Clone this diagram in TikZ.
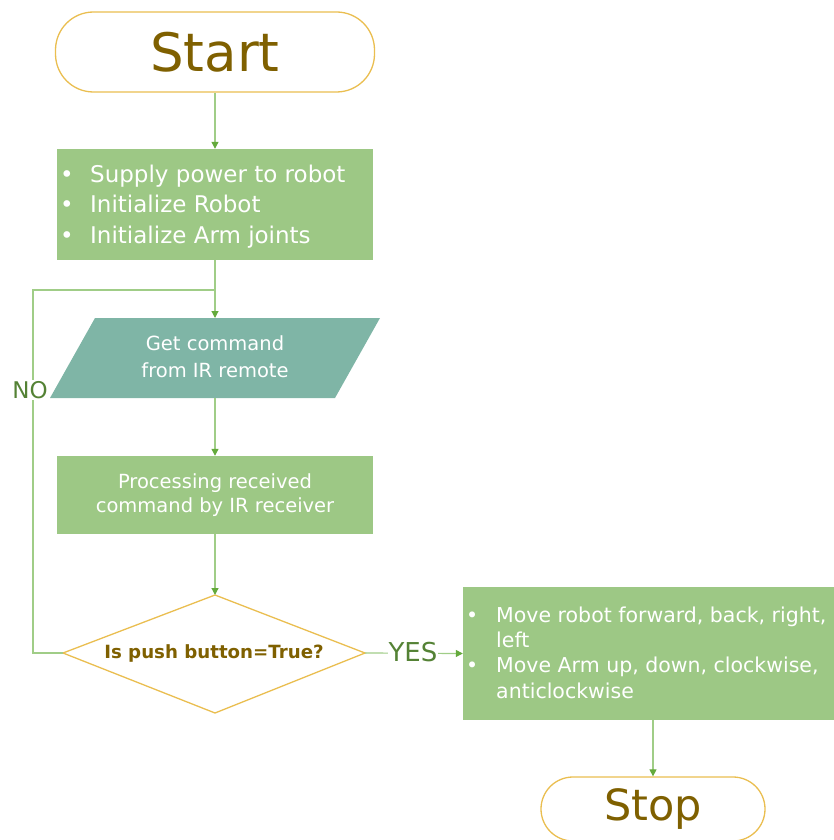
\documentclass[tikz,border=0pt]{standalone}
\usepackage{fontspec}
\setmainfont{DejaVu Sans}
\usetikzlibrary{arrows.meta,shapes.geometric}
\definecolor{boxgreen}{RGB}{157,200,133}
\definecolor{ioteal}{RGB}{127,181,166}
\definecolor{gold}{RGB}{234,190,80}
\definecolor{brown}{RGB}{127,96,0}
\definecolor{linegreen}{RGB}{160,205,135}
\definecolor{tipgreen}{RGB}{100,170,60}
\definecolor{labgreen}{RGB}{84,130,53}
\tikzset{
  term/.style={draw=gold, line width=1.3pt, fill=white, rounded corners=38pt, text=brown, inner sep=0pt},
  procbox/.style={fill=boxgreen, draw=none, text=white, inner sep=0pt},
  flow/.style={draw=linegreen, line width=1.2pt, -{Triangle[length=7pt,width=7pt,color=tipgreen]}},
  plain/.style={draw=linegreen, line width=1.2pt},
  lab/.style={text=labgreen, fill=white, inner sep=1pt}
}
\newcommand{\bl}{\makebox[30pt][l]{\textbullet}}
\begin{document}
\begin{tikzpicture}[x=1pt,y=-1pt]
\useasboundingbox (0,0) rectangle (833,840);
% Start
\node[term, minimum width=319pt, minimum height=80pt, font=\fontsize{53}{55}\selectfont] (start) at (215,52) {Start};
% Box 1
\node[procbox, minimum width=316pt, minimum height=111pt] (init) at (215,204.5) {};
\node[text=white, anchor=west, align=left, font=\fontsize{23}{30.5}\selectfont, inner sep=0pt] (inittext) at (60,206.5)
  {\begin{tabular}{@{}l@{}l@{}}\bl & Supply power to robot\\ \bl & Initialize Robot\\ \bl & Initialize Arm joints\end{tabular}};
% IO
\draw[fill=ioteal, draw=none] (95,318) -- (380,318) -- (335,398) -- (50,398) -- cycle;
\node[align=center, text=white, font=\fontsize{19.5}{27}\selectfont] (io) at (215,357) {Get command\\from IR remote};
% Box 2
\node[procbox, minimum width=316pt, minimum height=78pt, align=center, font=\fontsize{19.5}{24.5}\selectfont] (proc) at (215,495) {Processing received\\command by IR receiver};
% Decision
\draw[draw=gold, line width=1.3pt, fill=white] (215,595) -- (365,653) -- (215,713) -- (63,653) -- cycle;
\node[text=brown, font=\bfseries\fontsize{18.2}{20}\selectfont] (dec) at (214,653) {Is push button=True?};
\coordinate (decL) at (63,653);
\coordinate (decR) at (365,653);
\coordinate (decT) at (215,595);
% Box 3
\node[procbox, minimum width=372pt, minimum height=133pt] (act) at (649,653.5) {};
\node[text=white, anchor=west, font=\fontsize{20.5}{25.3}\selectfont, inner sep=0pt] (acttext) at (466,655)
  {\begin{tabular}{@{}l@{}l@{}}\bl & Move robot forward, back, right,\\ & left\\ \bl & Move Arm up, down, clockwise,\\ & anticlockwise\end{tabular}};
% Stop
\node[term, minimum width=224pt, minimum height=64pt, rounded corners=32pt, font=\fontsize{43}{45}\selectfont] (stop) at (653,809) {Stop};
% connectors
\coordinate (ioT) at (215,318);
\coordinate (ioB) at (215,398);
\coordinate (merge) at (215,290);
\coordinate (loopTop) at (33,290);
\coordinate (loopBot) at (33,653);
\draw[flow] (start.south) -- (init.north);
\draw[flow] (init.south) -- (ioT);
\draw[flow] (ioB) -- (proc.north);
\draw[flow] (proc.south) -- (decT);
\draw[plain] (decL) -- (loopBot) -- (loopTop) -- (merge);
\node[lab, font=\fontsize{23}{24}\selectfont] (no) at (30,390) {NO};
\draw[flow] (decR) -- (act.west);
\node[lab, font=\fontsize{26}{27}\selectfont] (yes) at (413,652) {YES};
\draw[flow] (act.south -| stop.north) -- (stop.north);
\end{tikzpicture}
\end{document}
